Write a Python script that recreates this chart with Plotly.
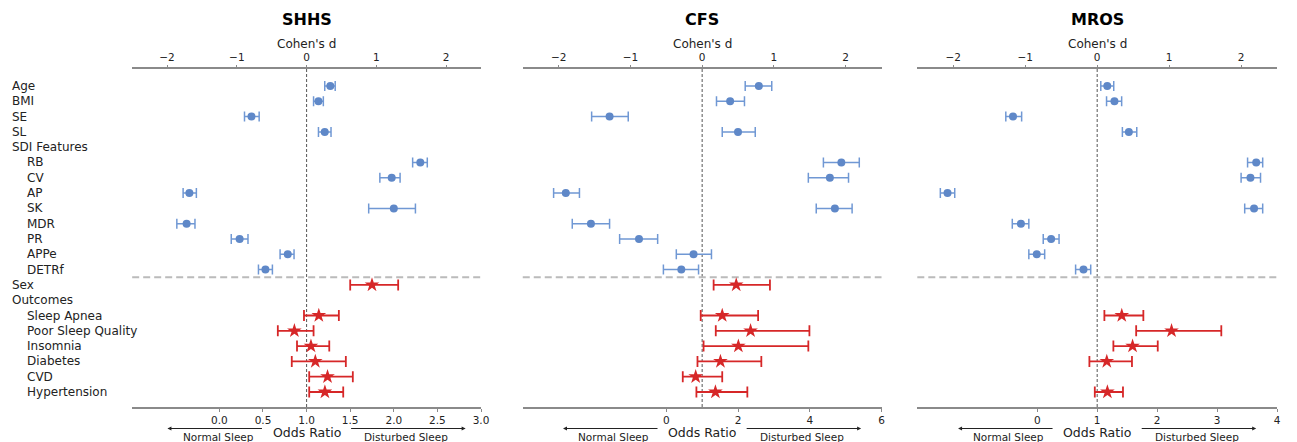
import plotly.graph_objects as go

W, H = 1297, 442

# ---- data ----
rows = ["Age", "BMI", "SE", "SL", "SDI Features", "RB", "CV", "AP", "SK", "MDR", "PR",
        "APPe", "DETRf", "Sex", "Outcomes", "Sleep Apnea", "Poor Sleep Quality",
        "Insomnia", "Diabetes", "CVD", "Hypertension"]
indented = ["RB", "CV", "AP", "SK", "MDR", "PR", "APPe", "DETRf", "Sleep Apnea",
            "Poor Sleep Quality", "Insomnia", "Diabetes", "CVD", "Hypertension"]

cohen_features = ["Age", "BMI", "SE", "SL", "RB", "CV", "AP", "SK", "MDR", "PR", "APPe", "DETRf"]
shhs_d = [0.34, 0.17, -0.79, 0.26, 1.63, 1.22, -1.68, 1.25, -1.72, -0.96, -0.27, -0.59]
shhs_d_lo = [0.26, 0.10, -0.89, 0.17, 1.52, 1.05, -1.77, 0.89, -1.86, -1.08, -0.38, -0.69]
shhs_d_hi = [0.41, 0.24, -0.68, 0.35, 1.73, 1.34, -1.58, 1.56, -1.60, -0.84, -0.18, -0.49]
cfs_d = [0.79, 0.39, -1.29, 0.50, 1.94, 1.78, -1.90, 1.85, -1.55, -0.88, -0.12, -0.29]
cfs_d_lo = [0.60, 0.20, -1.54, 0.28, 1.69, 1.48, -2.07, 1.59, -1.81, -1.15, -0.36, -0.54]
cfs_d_hi = [0.97, 0.59, -1.03, 0.74, 2.19, 2.04, -1.71, 2.09, -1.29, -0.62, 0.13, -0.05]
mros_d = [0.14, 0.24, -1.17, 0.44, 2.21, 2.13, -2.08, 2.18, -1.06, -0.64, -0.84, -0.19]
mros_d_lo = [0.05, 0.13, -1.27, 0.35, 2.09, 2.00, -2.18, 2.05, -1.18, -0.75, -0.95, -0.30]
mros_d_hi = [0.23, 0.34, -1.05, 0.55, 2.30, 2.27, -1.98, 2.30, -0.95, -0.53, -0.73, -0.09]

or_features = ["Sex", "Sleep Apnea", "Poor Sleep Quality", "Insomnia", "Diabetes", "CVD", "Hypertension"]
shhs_or = [1.75, 1.14, 0.86, 1.05, 1.10, 1.24, 1.21]
shhs_or_lo = [1.50, 0.97, 0.67, 0.89, 0.83, 1.03, 1.03]
shhs_or_hi = [2.05, 1.37, 1.08, 1.26, 1.45, 1.53, 1.42]
cfs_or = [1.95, 1.56, 2.35, 2.01, 1.51, 0.82, 1.37]
cfs_or_lo = [1.32, 0.96, 1.38, 1.04, 0.87, 0.46, 0.84]
cfs_or_hi = [2.89, 2.56, 3.99, 3.96, 2.65, 1.56, 2.26]
mros_or = [None, 1.41, 2.24, 1.59, 1.16, None, 1.17]
mros_or_lo = [None, 1.12, 1.65, 1.27, 0.87, None, 0.96]
mros_or_hi = [None, 1.77, 3.07, 2.01, 1.58, None, 1.43]

cohorts = ["SHHS", "CFS", "MROS"]
cohen_vals = [(shhs_d, shhs_d_lo, shhs_d_hi), (cfs_d, cfs_d_lo, cfs_d_hi), (mros_d, mros_d_lo, mros_d_hi)]
or_vals = [(shhs_or, shhs_or_lo, shhs_or_hi), (cfs_or, cfs_or_lo, cfs_or_hi), (mros_or, mros_or_lo, mros_or_hi)]
or_ranges = [[-1, 3], [-4, 6], [-2, 4]]
or_ticks = [[0, 0.5, 1.0, 1.5, 2.0, 2.5, 3.0], [0, 2, 4, 6], [0, 1, 2, 3, 4]]
or_fmt = [".1f", "d", "d"]
d_range = [-2.5, 2.5]
d_ticks = [-2, -1, 0, 1, 2]

# ---- layout geometry (pixels) ----
panels_px = [(133, 484), (526, 887), (923, 1285)]
y_top_px, y_bot_px = 69, 407

FONT = "DejaVu Sans"
BLUE = "#5f88c8"
BLUE_ERR = "#7098d4"
RED = "#d62728"
GRAY = "#8a8a8a"

def px_x(p):
    return p / W

def px_y(p):
    return 1 - p / H

ypos = {r: i for i, r in enumerate(rows)}

fig = go.Figure()
layout = dict(
    width=W, height=H, margin=dict(l=0, r=0, t=0, b=0),
    paper_bgcolor="white", plot_bgcolor="white", showlegend=False,
    font=dict(family=FONT, color="#222", size=11),
)
annotations = []
shapes = []

for k in range(3):
    i = k + 1
    xb = "x" if i == 1 else f"x{i}"
    xt = f"x{i+3}"
    ya = "y" if i == 1 else f"y{i}"
    dom = [px_x(panels_px[k][0]), px_x(panels_px[k][1])]
    ydom = [px_y(y_bot_px), px_y(y_top_px)]

    layout["xaxis" if i == 1 else f"xaxis{i}"] = dict(
        domain=dom, anchor=ya, range=or_ranges[k], tickvals=or_ticks[k], tickformat=or_fmt[k],
        showline=True, linecolor=GRAY, linewidth=1.5, ticks="outside", ticklen=3, tickcolor=GRAY,
        showgrid=False, zeroline=False, tickfont=dict(size=10.5, family=FONT, color="#222"),
        side="bottom")
    layout[f"xaxis{i+3}"] = dict(
        overlaying=xb, anchor=ya, side="top", range=d_range, tickvals=d_ticks,
        showline=True, linecolor=GRAY, linewidth=1.5, ticks="outside", ticklen=2, tickcolor=GRAY,
        showgrid=False, zeroline=False, tickfont=dict(size=10.5, family=FONT, color="#222"))
    layout["yaxis" if i == 1 else f"yaxis{i}"] = dict(
        domain=ydom, anchor=xb, range=[20.98, -1.11], showline=False, showgrid=False,
        zeroline=False, showticklabels=False, ticks="")

    # vertical dashed reference line at d=0 / OR=1
    shapes.append(dict(type="line", xref=xt, yref=f"{ya} domain", x0=0, x1=0, y0=0, y1=1,
                       line=dict(color="#555", width=1, dash="3px,2px"), layer="below"))
    # horizontal separator
    shapes.append(dict(type="line", xref=f"{xb} domain", yref=ya, x0=0, x1=1, y0=12.5, y1=12.5,
                       line=dict(color="#bbbbbb", width=2, dash="7px,4px"), layer="below"))

    # Cohen's d points
    d, lo, hi = cohen_vals[k]
    fig.add_trace(go.Scatter(
        x=d, y=[ypos[f] for f in cohen_features], xaxis=xt, yaxis=ya, mode="markers",
        marker=dict(color=BLUE, size=8, symbol="circle"),
        error_x=dict(type="data", symmetric=False,
                     array=[h - v for v, h in zip(d, hi)],
                     arrayminus=[v - l for v, l in zip(d, lo)],
                     color=BLUE_ERR, thickness=1.5, width=5)))

    # Odds ratio points
    o, olo, ohi = or_vals[k]
    sel = [j for j, v in enumerate(o) if v is not None]
    fig.add_trace(go.Scatter(
        x=[o[j] for j in sel], y=[ypos[or_features[j]] for j in sel], xaxis=xb, yaxis=ya,
        mode="markers", marker=dict(color=RED, size=11, symbol="star"),
        error_x=dict(type="data", symmetric=False,
                     array=[ohi[j] - o[j] for j in sel],
                     arrayminus=[o[j] - olo[j] for j in sel],
                     color=RED, thickness=1.8, width=5.5)))

    cx = (panels_px[k][0] + panels_px[k][1]) / 2
    center = panels_px[k][0] + (1 - or_ranges[k][0]) / (or_ranges[k][1] - or_ranges[k][0]) * (panels_px[k][1] - panels_px[k][0])
    # title
    annotations.append(dict(text=f"<b>{cohorts[k]}</b>", x=px_x(cx), y=px_y(20), xref="paper", yref="paper",
                            showarrow=False, font=dict(size=16, family=FONT, color="black"),
                            xanchor="center", yanchor="middle"))
    annotations.append(dict(text="Cohen's d", x=px_x(cx), y=px_y(44), xref="paper", yref="paper",
                            showarrow=False, font=dict(size=12, family=FONT, color="#222"),
                            xanchor="center", yanchor="middle"))
    annotations.append(dict(text="Odds Ratio", x=px_x(center), y=px_y(432), xref="paper", yref="paper",
                            showarrow=False, font=dict(size=12.5, family=FONT, color="#222"),
                            xanchor="center", yanchor="middle"))
    annotations.append(dict(text="Normal Sleep", x=px_x(center - 89), y=px_y(436.5), xref="paper", yref="paper",
                            showarrow=False, font=dict(size=10.5, family=FONT, color="#222"),
                            xanchor="center", yanchor="middle"))
    annotations.append(dict(text="Disturbed Sleep", x=px_x(center + 100), y=px_y(436.5), xref="paper", yref="paper",
                            showarrow=False, font=dict(size=10.5, family=FONT, color="#222"),
                            xanchor="center", yanchor="middle"))
    # arrows
    annotations.append(dict(text="", x=px_x(center - 140), y=px_y(428.5), xref="paper", yref="paper",
                            ax=96, ay=0, showarrow=True, arrowhead=2, arrowsize=0.8, arrowwidth=1,
                            arrowcolor="#222"))
    annotations.append(dict(text="", x=px_x(center + 160), y=px_y(428.5), xref="paper", yref="paper",
                            ax=-116, ay=0, showarrow=True, arrowhead=2, arrowsize=0.8, arrowwidth=1,
                            arrowcolor="#222"))

# row labels
for r in rows:
    annotations.append(dict(text=r, x=px_x(25 if r in indented else 10), y=ypos[r], xref="paper", yref="y",
                            showarrow=False, xanchor="left", yanchor="middle",
                            font=dict(size=12, family=FONT, color="#222")))

layout["annotations"] = annotations
layout["shapes"] = shapes
fig.update_layout(**layout)
fig.write_html("out.html", config={"displayModeBar": False},
               post_script="document.body.style.margin='0px';document.body.style.overflow='hidden';")
